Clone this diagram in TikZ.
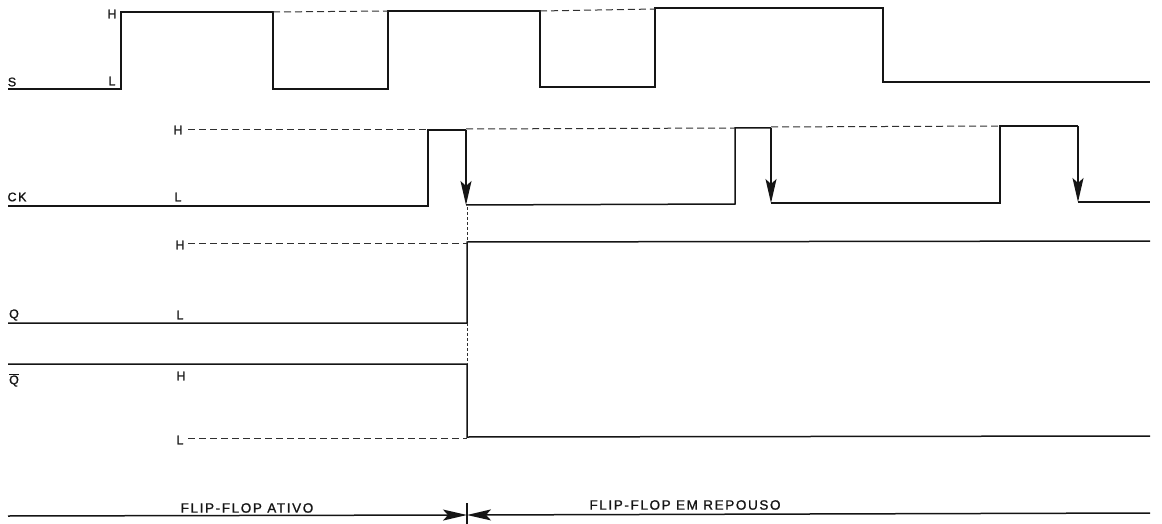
\documentclass[tikz,border=0pt]{standalone}
\usepackage{fontspec}
\usetikzlibrary{arrows.meta}
\newfontfamily\lettering[LetterSpace=12, FakeBold=1.2]{Liberation Sans}
\definecolor{inkblack}{HTML}{151515}
\definecolor{dashgray}{HTML}{303030}

\begin{document}
\begin{tikzpicture}[x=1pt, y=-1pt, >={Stealth[length=24pt, width=11pt, inset=5pt]},
    line width=1.5pt, font=\lettering\fontsize{12.5}{14}\selectfont,
    wave/.style={inkblack, line join=miter},
    level/.style={dashgray, line width=1pt, dash pattern=on 7pt off 4pt},
    tag/.style={inner sep=0pt, text=inkblack},
    note/.style={inner sep=0pt, text=inkblack, font=\lettering\fontsize{13.5}{15}\selectfont}]
  \useasboundingbox (0,0) rectangle (1162,524);
  % signal S
  \draw[wave] (8,89) -- (121,89) -- (121,12) -- (273,12) -- (273,89) -- (388,89)
    -- (388,11) -- (540,11) -- (540,87) -- (655,87) -- (655,8) -- (883,8)
    -- (883,82) -- (1150,82);
  \draw[level] (273,12) -- (388,11);
  \draw[level] (540,11) -- (655,9);
  \node[tag] (sname) at (12,82) {S};
  \node[tag] (shigh) at (112,14) {H};
  \node[tag] (slow) at (112,81) {L};
  % clock CK
  \coordinate (ck1) at (466,130);
  \coordinate (ck1low) at (466,205);
  \coordinate (ck2) at (771,128);
  \coordinate (ck2low) at (771,203);
  \coordinate (ck3) at (1078,126);
  \coordinate (ck3low) at (1078,202);
  \draw[wave] (8,206) -- (428,206) -- (428,130) -- (ck1);
  \draw[wave] (ck1low) -- (735,204) -- (735,128) -- (ck2);
  \draw[wave] (ck2low) -- (1000,203) -- (1000,126) -- (ck3);
  \draw[wave] (ck3low) -- (1150,202);
  \draw[wave, ->] (ck1) -- (ck1low);
  \draw[wave, ->] (ck2) -- (ck2low);
  \draw[wave, ->] (ck3) -- (ck3low);
  \draw[level] (188,130) -- (428,130);
  \draw[level] (466,129) -- (735,128);
  \draw[level] (771,127) -- (1000,126);
  \node[tag] (ckname) at (17,197) {CK};
  \node[tag] (ckhigh) at (178,130) {H};
  \node[tag] (cklow) at (178,197) {L};
  % output Q
  \draw[wave] (8,323) -- (467,323) -- (467,242) -- (1150,241);
  \draw[level] (188,243) -- (467,243);
  \node[tag] (qname) at (14,315) {Q};
  \node[tag] (qhigh) at (180,245) {H};
  \node[tag] (qlow) at (180,315) {L};
  % output Q bar
  \draw[wave] (8,364) -- (467,364) -- (467,437) -- (1150,436);
  \draw[level] (188,438) -- (467,438);
  \node[tag] (qbname) at (14,380) {$\overline{\hbox{Q}}$};
  \node[tag] (qbhigh) at (181,376) {H};
  \node[tag] (qblow) at (180,440) {L};
  % edge of the clock
  \draw[level, dash pattern=on 3pt off 2pt] (467,207) -- (467,242);
  \draw[level, dash pattern=on 3pt off 2pt] (467,323) -- (467,364);
  % states
  \coordinate (split) at (467,515);
  \draw[wave, ->] (8,516) -- (split);
  \draw[wave, ->] (1150,513) -- (split);
  \draw[wave, line width=1.1pt] (467,503) -- (467,524);
  \node[note] (active) at (247,508) {FLIP-FLOP ATIVO};
  \node[note] (rest) at (685,505) {FLIP-FLOP EM REPOUSO};
\end{tikzpicture}
\end{document}
